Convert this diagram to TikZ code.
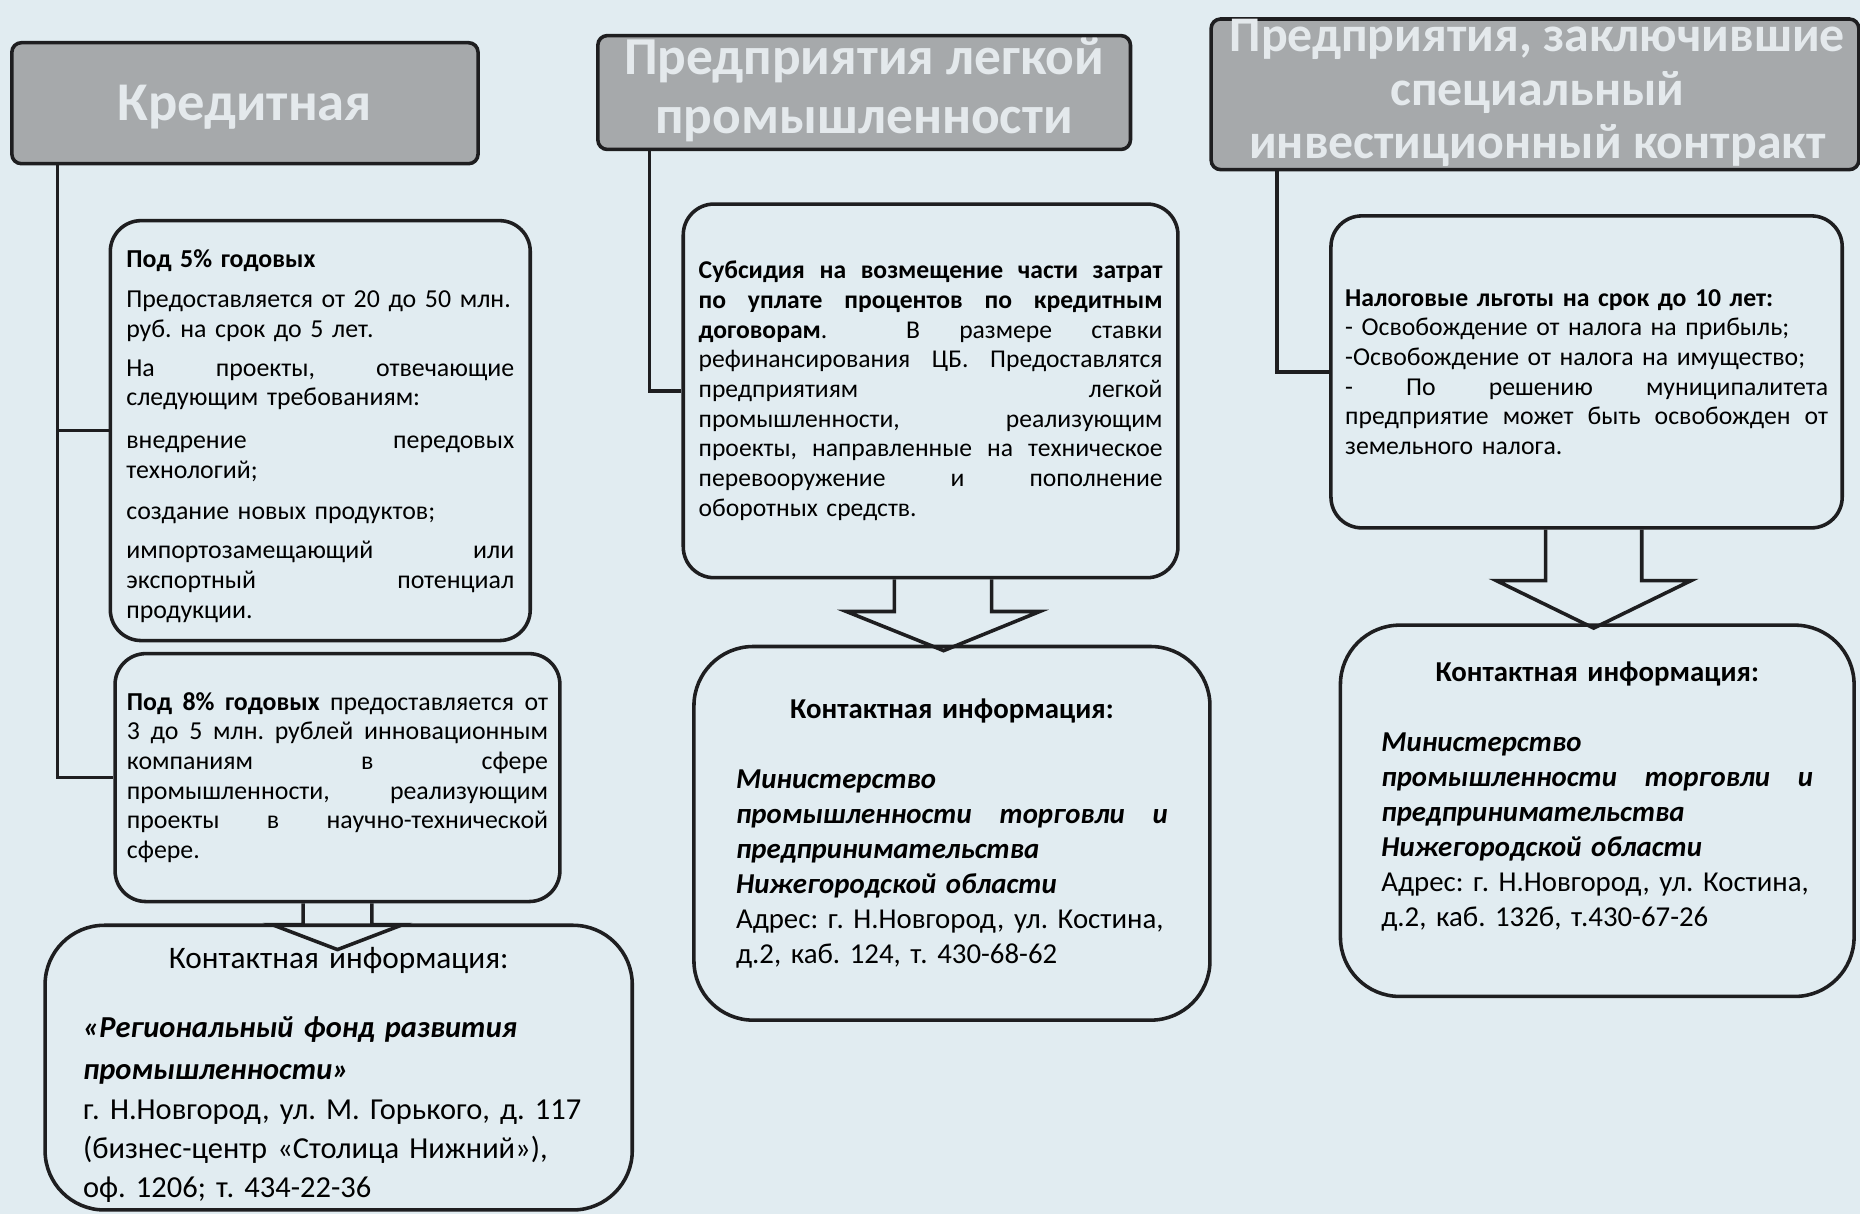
\documentclass[tikz,border=0pt]{standalone}
\usepackage{fontspec}
\setmainfont{Carlito}
\usetikzlibrary{calc}
\frenchspacing

\definecolor{paper}{RGB}{225,236,241}
\definecolor{headgray}{RGB}{166,169,171}
\definecolor{headink}{RGB}{228,233,236}
\definecolor{ink}{RGB}{30,30,32}

\tikzset{every picture/.style={line width=3pt}}
\tikzset{
  head/.style={draw=ink, fill=headgray, rounded corners=8pt, inner sep=0pt},
  headtext/.style={text=headink, font=\bfseries, align=center, inner sep=0pt},
  card/.style={draw=ink, rounded corners=26pt, inner sep=0pt, align=left},
  contact/.style={draw=ink, rounded corners=50pt, inner sep=0pt, align=left},
  link/.style={draw=ink},
  fatarrow/.style={draw=ink, line join=miter},
}
% justified line
\newcommand{\jl}[1]{\makebox[\hsize][s]{\spaceskip=0pt\xspaceskip=0pt #1}}
% centred line
\newcommand{\cl}[1]{\makebox[\hsize][c]{#1}}

\begin{document}
\begin{tikzpicture}[x=1pt,y=1pt,yscale=-1,xscale=1]
\fill[paper] (0,0) rectangle (1568,1023);
\useasboundingbox (0,0) rectangle (1568,1023);

%Shape: Header [credit]
\node[head, minimum width=393, minimum height=102] (credit) at (206.5,87) {};
\node[headtext, font=\fontsize{46}{50}\selectfont\bfseries, yshift=-3] (creditT) at (credit.center) {Кредитная};
%Shape: Header [light industry]
\node[head, minimum width=449, minimum height=96] (light) at (728.5,78) {};
\node[headtext, font=\fontsize{45}{50}\selectfont\bfseries, yshift=2] (lightT) at (light.center) {Предприятия легкой\\промышленности};
%Shape: Header [special contract]
\node[head, minimum width=546, minimum height=127] (contract) at (1294,79.5) {};
\node[headtext, font=\fontsize{42}{45}\selectfont\bfseries, yshift=1, xshift=2] (contractT) at (contract.center) {Предприятия, заключившие\\специальный\\инвестиционный контракт};

%Shape: Card [5 percent]
\node[card, minimum width=354, minimum height=354, text width=327, font=\fontsize{21.8}{25}\selectfont] (rate5) at (270,363) {%
\rule{0pt}{24pt}\textbf{Под 5\% годовых}\\[9pt]
Предоставляется от 20 до 50 млн.\\
руб. на срок до 5 лет.\\[8pt]
\jl{На проекты, отвечающие}\\
следующим требованиям:\\[11pt]
\jl{внедрение передовых}\\
технологий;\\[10pt]
создание новых продуктов;\\[8pt]
\jl{импортозамещающий или}\\
\jl{экспортный потенциал}\\
продукции.};

%Shape: Card [8 percent]
\node[card, minimum width=375, minimum height=209, text width=355, font=\fontsize{21.8}{25}\selectfont] (rate8) at (284.5,655.5) {%
\jl{\textbf{Под 8\% годовых} предоставляется от}\\
\jl{3 до 5 млн. рублей инновационным}\\
\jl{компаниям в сфере}\\
\jl{промышленности, реализующим}\\
\jl{проекты в научно-технической}\\
сфере.};

%Shape: Contact [fund]
\node[contact, minimum width=495, minimum height=240, text width=431, font=\fontsize{25.7}{33}\selectfont] (fund) at (285.5,900) {%
\rule{0pt}{30pt}\cl{\fontsize{26.4}{33}\selectfont Контактная информация:}\\[25pt]
\textbf{\textit{«Региональный фонд развития}}\\[3pt]
\textbf{\textit{промышленности»}}\\
г. Н.Новгород, ул. М. Горького, д. 117\\
(бизнес-центр «Столица Нижний»),\\
оф. 1206; т. 434-22-36};

%Shape: Card [subsidy]
\node[card, minimum width=417, minimum height=315, text width=391, font=\fontsize{21.6}{25}\selectfont] (subsidy) at (784.5,329.5) {%
\jl{\textbf{Субсидия на возмещение части затрат}}\\
\jl{\textbf{по уплате процентов по кредитным}}\\
\jl{\textbf{договорам}. \ В размере ставки}\\
\jl{рефинансирования ЦБ. Предоставлятся}\\
\jl{предприятиям легкой}\\
\jl{промышленности, реализующим}\\
\jl{проекты, направленные на техническое}\\
\jl{перевооружение и пополнение}\\
оборотных средств.};

%Shape: Contact [ministry, middle]
\node[contact, minimum width=435, minimum height=315, text width=364, font=\fontsize{24.3}{29.5}\selectfont] (ministryE) at (802.5,702.5) {%
\cl{\textbf{Контактная информация:}}\\[30pt]
\textbf{\textit{Министерство}}\\
\jl{\bfseries\itshape промышленности торговли и}\\
\textbf{\textit{предпринимательства}}\\
\textbf{\textit{Нижегородской области}}\\
Адрес: г. Н.Новгород, ул. Костина,\\
д.2, каб. 124, т. 430-68-62};

%Shape: Card [tax]
\node[card, minimum width=431, minimum height=263, text width=407, font=\fontsize{21.7}{25}\selectfont] (tax) at (1337.5,313.5) {%
\textbf{Налоговые льготы на срок до 10 лет:}\\
- Освобождение от налога на прибыль;\\
-Освобождение от налога на имущество;\\
\jl{- По решению муниципалитета}\\
\jl{предприятие может быть освобожден от}\\
земельного налога.};

%Shape: Contact [ministry, right]
\node[contact, minimum width=433, minimum height=313, text width=364, font=\fontsize{24.3}{29.5}\selectfont] (ministryG) at (1346.5,683.5) {%
\cl{\textbf{Контактная информация:}}\\[30pt]
\textbf{\textit{Министерство}}\\
\jl{\bfseries\itshape промышленности торговли и}\\
\textbf{\textit{предпринимательства}}\\
\textbf{\textit{Нижегородской области}}\\
Адрес: г. Н.Новгород, ул. Костина,\\
д.2, каб. 132б, т.430-67-26\rule[-28pt]{0pt}{0pt}};

%Straight Lines [headers to cards]
\draw[link] ($(credit.south west)+(40,0)$) |- (rate5.west);
\draw[link] ($(credit.south west)+(40,0)$) |- (rate8.west);
\draw[link] ($(light.south west)+(45,0)$) |- (subsidy.west);
\draw[link] ($(contract.south west)+(57,0)$) |- (tax.west);

%Block arrows [cards to contacts]
\draw[fatarrow] ($(rate8.south)+(-29,0)$) -- ++(0,18) -- ++(-26,0) -- ($(rate8.south)+(0,39)$)
  -- ($(rate8.south)+(55,18)$) -- ++(-26,0) -- ++(0,-18);
\draw[fatarrow] ($(subsidy.south)+(-30.5,0)$) -- ++(0,27) -- ++(-40.5,0) -- ($(subsidy.south)+(11,60)$)
  -- ($(subsidy.south)+(92,27)$) -- ++(-40.5,0) -- ++(0,-27);
\draw[fatarrow] ($(tax.south)+(-34.5,0)$) -- ++(0,43) -- ++(-41.5,0) -- ($(tax.south)+(6,83)$)
  -- ($(tax.south)+(88,43)$) -- ++(-41.5,0) -- ++(0,-43);

\end{tikzpicture}
\end{document}
